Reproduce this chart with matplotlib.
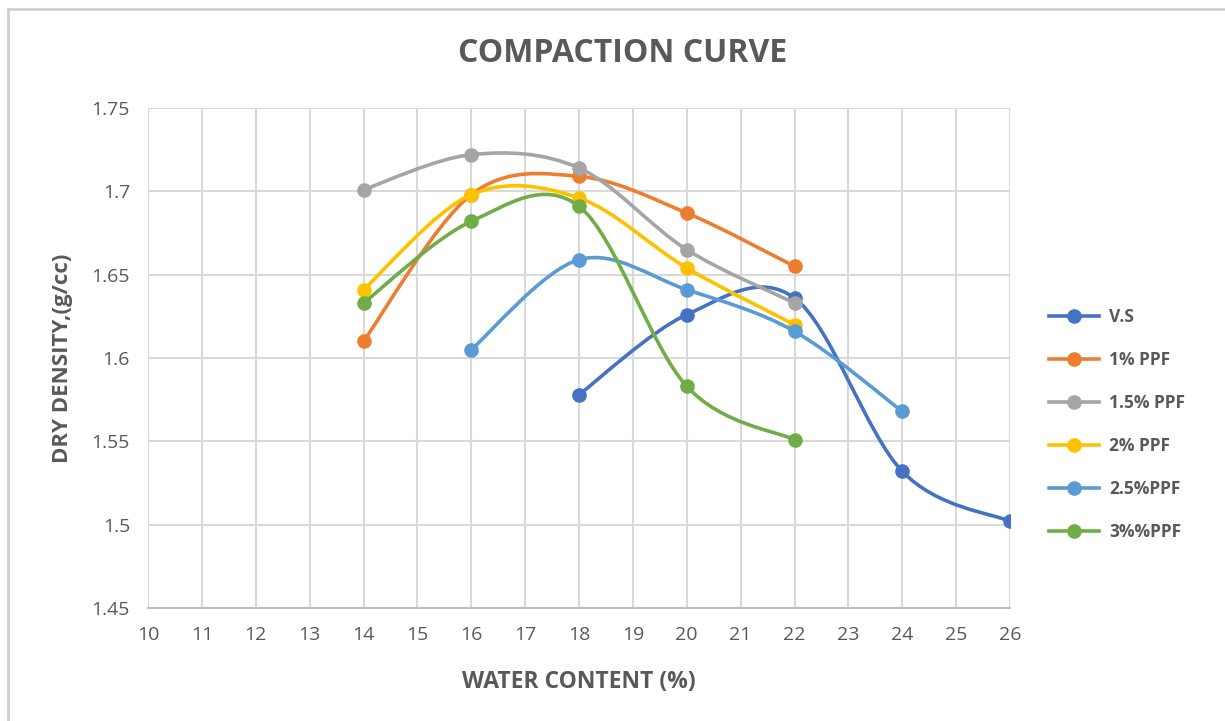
import matplotlib.pyplot as plt
import numpy as np
from matplotlib.path import Path
from matplotlib.patches import PathPatch
from matplotlib.lines import Line2D

# water content (%) and dry density (g/cc) for each mix
vs_x = [18, 20, 22, 24, 26]
vs_y = [1.578, 1.626, 1.636, 1.532, 1.502]
ppf1_x = [14, 16, 18, 20, 22]
ppf1_y = [1.610, 1.698, 1.709, 1.687, 1.655]
ppf15_x = [14, 16, 18, 20, 22]
ppf15_y = [1.701, 1.722, 1.714, 1.665, 1.633]
ppf2_x = [14, 16, 18, 20, 22]
ppf2_y = [1.641, 1.698, 1.696, 1.654, 1.620]
ppf25_x = [16, 18, 20, 22, 24]
ppf25_y = [1.605, 1.659, 1.641, 1.616, 1.568]
ppf3_x = [14, 16, 18, 20, 22]
ppf3_y = [1.633, 1.682, 1.691, 1.583, 1.551]

labels = ["V.S", "1% PPF", "1.5% PPF", "2% PPF", "2.5%PPF", "3%%PPF"]
colors = ["#4472C4", "#ED7D31", "#A5A5A5", "#FFC000", "#5B9BD5", "#70AD47"]
series = [(vs_x, vs_y), (ppf1_x, ppf1_y), (ppf15_x, ppf15_y),
          (ppf2_x, ppf2_y), (ppf25_x, ppf25_y), (ppf3_x, ppf3_y)]

TXT = "#595959"
GRID = "#D9D9D9"
FONT = ["Open Sans", "DejaVu Sans"]


def smooth_path(xs, ys):
    # excel style smoothed line: bezier segments with catmull-rom control points
    pts = np.column_stack([xs, ys]).astype(float)
    n = len(pts)
    verts = [pts[0]]
    codes = [Path.MOVETO]
    for i in range(n - 1):
        p0 = pts[i - 1] if i > 0 else pts[i]
        p1 = pts[i]
        p2 = pts[i + 1]
        p3 = pts[i + 2] if i + 2 < n else pts[i + 1]
        c1 = p1 + (p2 - p0) / 6.0
        c2 = p2 - (p3 - p1) / 6.0
        verts += [c1, c2, p2]
        codes += [Path.CURVE4] * 3
    return Path(verts, codes)


W, H = 1225, 721
fig = plt.figure(figsize=(W / 100, H / 100), dpi=100)
# chart area border (only top and left edges visible in the screenshot)
fig.lines.append(Line2D([8 / W, 1.0], [1 - 9 / H, 1 - 9 / H], transform=fig.transFigure,
                        color="#D0D0D0", lw=2))
fig.lines.append(Line2D([8 / W, 8 / W], [0, 1 - 9 / H], transform=fig.transFigure,
                        color="#D0D0D0", lw=2))

ax = fig.add_axes([148 / W, 113 / H, 862 / W, 500 / H])

for i, ((xs, ys), c, lab) in enumerate(zip(series, colors, labels)):
    patch = PathPatch(smooth_path(xs, ys), facecolor="none", edgecolor=c, lw=2.6,
                      zorder=3 + i, capstyle="round", joinstyle="round")
    ax.add_patch(patch)
    ax.plot(xs, ys, linestyle="none", marker="o", markersize=9.5, color=c, zorder=3 + i)

ax.set_xlim(10, 26)
ax.set_ylim(1.45, 1.75)
ax.set_xticks(range(10, 27))
ax.set_yticks([1.45, 1.5, 1.55, 1.6, 1.65, 1.7, 1.75])
ax.set_yticklabels(["1.45", "1.5", "1.55", "1.6", "1.65", "1.7", "1.75"])
ax.grid(True, color=GRID, linewidth=1.5)
ax.set_axisbelow(True)
for s in ["top", "right", "left"]:
    ax.spines[s].set_visible(False)
ax.spines["bottom"].set_color("#BFBFBF")
ax.spines["bottom"].set_linewidth(1.5)
ax.tick_params(length=0, colors=TXT, labelsize=14, pad=13)
for t in ax.get_xticklabels() + ax.get_yticklabels():
    t.set_family(FONT)

ax.set_xlabel("WATER CONTENT (%)", fontsize=16.5, fontweight="bold", color=TXT, family=FONT, labelpad=19)
ax.set_ylabel("DRY DENSITY,(g/cc)", fontsize=16, fontweight="bold", color=TXT, family=FONT, labelpad=13)
fig.text(623 / W, 1 - 53 / H, "COMPACTION CURVE", fontsize=23, fontweight="bold", color=TXT,
         family=FONT, ha="center", va="center")

handles = [Line2D([0], [0], color=c, lw=2.6, marker="o", markersize=9.5) for c in colors]
leg = fig.legend(handles, labels, loc="upper left", bbox_to_anchor=(1033 / W, 1 - 292 / H),
                 frameon=False, handlelength=2.9, handletextpad=0.6, labelspacing=1.45,
                 prop={"family": FONT, "weight": "bold", "size": 12.5})
for t in leg.get_texts():
    t.set_color(TXT)

fig.savefig("out.png", dpi=100)
